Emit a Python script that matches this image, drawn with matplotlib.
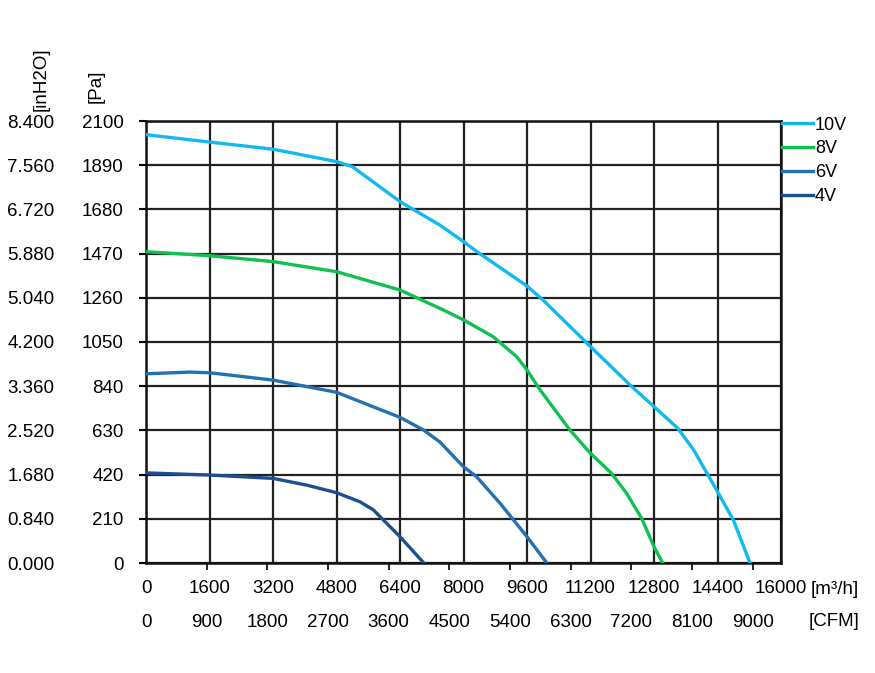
import numpy as np
import matplotlib
matplotlib.use("Agg")
from matplotlib import pyplot as plt

plt.rcParams['font.family'] = ['Liberation Sans', 'DejaVu Sans']

# airflow [m3/h] and static pressure [Pa] per control voltage
flow_10v = [0, 1600, 3200, 4800, 5200, 6400, 7400, 8000, 8400, 9600, 10000, 11200, 12240, 12800, 13400, 13800, 14400, 14800, 15220]
pa_10v = [2035, 2000, 1966, 1907, 1883, 1717, 1606, 1527, 1471, 1316, 1250, 1028, 838, 743, 640, 537, 339, 204, 0]

flow_8v = [0, 1600, 3200, 4800, 6400, 7450, 8000, 8750, 9340, 9600, 9930, 10680, 11200, 11730, 12110, 12490, 12800, 13020]
pa_8v = [1479, 1460, 1432, 1384, 1297, 1206, 1155, 1075, 980, 917, 822, 632, 521, 426, 331, 212, 77, 0]

flow_6v = [0, 1100, 1600, 3200, 4800, 6400, 6990, 7400, 8000, 8330, 8920, 9600, 10100]
pa_6v = [899, 907, 904, 869, 811, 692, 632, 576, 457, 410, 284, 125, 0]

flow_4v = [0, 1600, 3200, 4050, 4800, 5390, 5730, 6400, 7000]
pa_4v = [428, 418, 402, 370, 334, 291, 252, 125, 0]

labels = ["10V", "8V", "6V", "4V"]
colors = ["#12B8F0", "#10C050", "#2570B0", "#1A5090"]

flow_ticks = np.arange(0, 16001, 1600)
pa_ticks = np.arange(0, 2101, 210)
cfm_ticks = np.arange(0, 9001, 900)
M3H_PER_CFM = 1.699
PA_PER_INH2O = 250.0
FS = 13.5

fig = plt.figure(figsize=(8.75, 6.73), dpi=100)
ax = fig.add_axes([146/875, 1-563/673, (781-146)/875, (563-121)/673])

for fx, py, lab, c in zip([flow_10v, flow_8v, flow_6v, flow_4v],
                         [pa_10v, pa_8v, pa_6v, pa_4v], labels, colors):
    ax.plot(fx, py, color=c, lw=2.4, label=lab, zorder=3, solid_joinstyle="round")

ax.set_xlim(0, 16000)
ax.set_ylim(0, 2100)
ax.set_xticks(flow_ticks)
ax.set_xticks(cfm_ticks * M3H_PER_CFM, minor=True)
ax.set_yticks(pa_ticks)
ax.grid(True, which="major", color="#222222", lw=1.6)
for s in ax.spines.values():
    s.set_linewidth(1.8)
    s.set_color("#111111")
ax.tick_params(axis="x", which="major", length=0, pad=12, labelsize=FS)
ax.tick_params(axis="x", which="minor", length=5, width=1.3, direction="out", color="#111111")
ax.tick_params(axis="y", length=5, width=1.5, direction="out", pad=11, labelsize=FS)

# CFM scale under the m3/h scale
sec_x = ax.secondary_xaxis("bottom", functions=(lambda v: v / M3H_PER_CFM, lambda v: v * M3H_PER_CFM))
sec_x.set_xticks(cfm_ticks)
sec_x.tick_params(length=0, pad=37, labelsize=FS)
sec_x.spines["bottom"].set_visible(False)

# inH2O scale left of the Pa scale
sec_y = ax.secondary_yaxis("left", functions=(lambda v: v / PA_PER_INH2O, lambda v: v * PA_PER_INH2O))
sec_y.set_yticks(pa_ticks / PA_PER_INH2O)
sec_y.set_yticklabels(["%.3f" % v for v in pa_ticks / PA_PER_INH2O])
sec_y.tick_params(length=0, pad=66, labelsize=FS)
sec_y.spines["left"].set_visible(False)

fig.text(41/875, 1-111/673, "[inH2O]", rotation=90, ha="center", va="bottom", fontsize=FS)
fig.text(96/875, 1-103/673, "[Pa]", rotation=90, ha="center", va="bottom", fontsize=FS)
fig.text(859/875, 1-589/673, "[m³/h]", ha="right", va="center", fontsize=FS)
fig.text(859/875, 1-622/673, "[CFM]", ha="right", va="center", fontsize=FS)

leg = ax.legend(loc="upper left", bbox_to_anchor=(1.002, 1.01), frameon=False,
                borderaxespad=0, borderpad=0, handlelength=1.7, handletextpad=0.1,
                labelspacing=0.38, fontsize=13)

fig.savefig("out.png", dpi=100)
